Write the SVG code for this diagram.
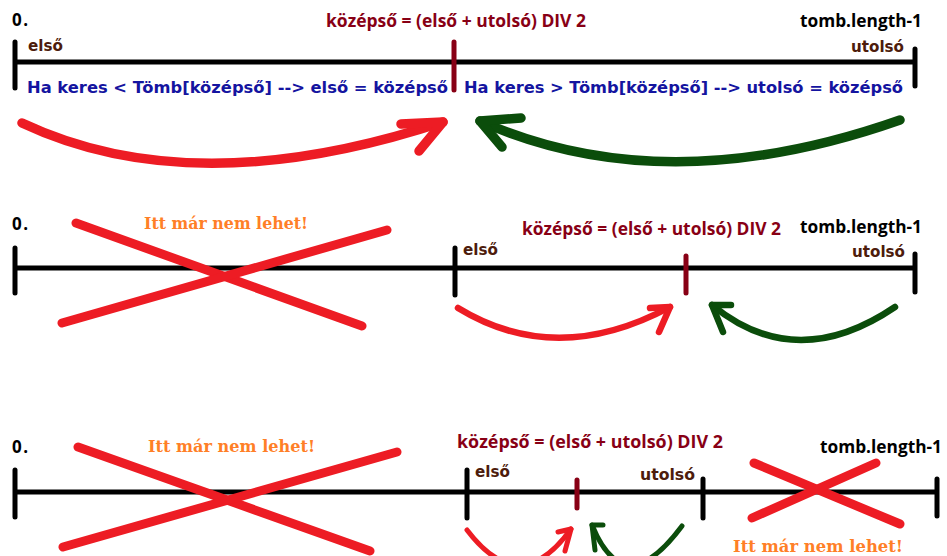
<svg xmlns="http://www.w3.org/2000/svg" width="947" height="556" viewBox="0 0 947 556">
<style>
.axis{stroke:#000;stroke-width:5;fill:none}
.tick{stroke:#000;stroke-width:5;stroke-linecap:round;fill:none}
.mid{stroke:#880015;stroke-width:5;stroke-linecap:round;fill:none}
.cross{stroke:#ed1c24;stroke-width:9;stroke-linecap:round;fill:none}
.red{stroke:#ed1c24;stroke-linecap:round;stroke-linejoin:round;fill:none}
.green{stroke:#0b4d0b;stroke-linecap:round;stroke-linejoin:round;fill:none}
.w1{stroke-width:9.5}
.w2{stroke-width:6.5}
.w3{stroke-width:5}
.calib{font-family:"Open Sans","Liberation Sans",sans-serif;font-weight:bold;font-size:17px}
.formula{fill:#880015}
.blk{fill:#000}
.ptr{font-family:"DejaVu Sans","Liberation Sans",sans-serif;font-weight:bold;font-size:15px;fill:#4d1c0c}
.blue{font-family:"DejaVu Sans","Liberation Sans",sans-serif;font-weight:bold;font-size:15px;fill:#1414a0}
.warn{font-family:"DejaVu Serif","Liberation Serif",serif;font-weight:bold;font-size:16px;fill:#ff7f27}
</style>

<!-- Row 1 -->
<g id="row1-axis">
<line class="axis" x1="15" y1="62" x2="915" y2="62"/>
<line class="tick" x1="15" y1="42" x2="15" y2="88"/>
<line class="tick" x1="915" y1="49" x2="915" y2="86"/>
<line class="mid" x1="454" y1="42" x2="454" y2="90"/>
</g>
<g id="row1-labels">
<text class="calib blk" x="12" y="26" textLength="16">0.</text>
<text class="calib formula" x="326" y="27" textLength="260" lengthAdjust="spacingAndGlyphs">középső = (első + utolsó) DIV 2</text>
<text class="calib blk" x="800" y="27" textLength="122" lengthAdjust="spacingAndGlyphs">tomb.length-1</text>
<text class="ptr" x="28" y="51" textLength="35" lengthAdjust="spacingAndGlyphs">első</text>
<text class="ptr" x="851" y="52" textLength="53" lengthAdjust="spacingAndGlyphs">utolsó</text>
<text class="blue" x="27" y="93" textLength="421" lengthAdjust="spacingAndGlyphs">Ha keres &lt; Tömb[középső] --&gt; első = középső</text>
<text class="blue" x="464" y="93" textLength="439" lengthAdjust="spacingAndGlyphs">Ha keres &gt; Tömb[középső] --&gt; utolsó = középső</text>
</g>

<!-- Row 2 -->
<g id="row2-axis">
<line class="axis" x1="15" y1="268" x2="915" y2="268"/>
<line class="tick" x1="15" y1="248" x2="15" y2="293"/>
<line class="tick" x1="455" y1="248" x2="455" y2="295"/>
<line class="mid" x1="686" y1="256" x2="686" y2="293"/>
<line class="tick" x1="915" y1="254" x2="915" y2="292"/>
</g>
<g id="row2-labels">
<text class="calib blk" x="12" y="230" textLength="16">0.</text>
<text class="warn" x="144" y="229" textLength="164" lengthAdjust="spacingAndGlyphs">Itt már nem lehet!</text>
<text class="calib formula" x="522" y="235" textLength="259" lengthAdjust="spacingAndGlyphs">középső = (első + utolsó) DIV 2</text>
<text class="calib blk" x="800" y="233" textLength="122" lengthAdjust="spacingAndGlyphs">tomb.length-1</text>
<text class="ptr" x="463" y="255" textLength="35" lengthAdjust="spacingAndGlyphs">első</text>
<text class="ptr" x="852" y="257" textLength="53" lengthAdjust="spacingAndGlyphs">utolsó</text>
</g>
<g id="row2-cross">
<line class="cross" x1="76" y1="223" x2="362" y2="326"/>
<line class="cross" x1="387" y1="230" x2="62" y2="323"/>
</g>

<!-- Row 3 -->
<g id="row3-axis">
<line class="axis" x1="15" y1="492" x2="937" y2="492"/>
<line class="tick" x1="15" y1="470" x2="15" y2="517"/>
<line class="tick" x1="467" y1="470" x2="467" y2="518"/>
<line class="mid" x1="577" y1="480" x2="577" y2="508"/>
<line class="tick" x1="703" y1="479" x2="703" y2="518"/>
<line class="tick" x1="937" y1="479" x2="937" y2="516"/>
</g>
<g id="row3-labels">
<text class="calib blk" x="12" y="453" textLength="16">0.</text>
<text class="warn" x="148" y="452" textLength="167" lengthAdjust="spacingAndGlyphs">Itt már nem lehet!</text>
<text class="calib formula" x="457" y="448" textLength="266" lengthAdjust="spacingAndGlyphs">középső = (első + utolsó) DIV 2</text>
<text class="calib blk" x="820" y="453" textLength="122" lengthAdjust="spacingAndGlyphs">tomb.length-1</text>
<text class="ptr" x="475" y="477" textLength="35" lengthAdjust="spacingAndGlyphs">első</text>
<text class="ptr" x="640" y="480" textLength="55" lengthAdjust="spacingAndGlyphs">utolsó</text>
<text class="warn" x="733" y="552" textLength="170" lengthAdjust="spacingAndGlyphs">Itt már nem lehet!</text>
</g>
<g id="row3-cross-left">
<line class="cross" x1="78" y1="447" x2="370" y2="551"/>
<line class="cross" x1="397" y1="452" x2="63" y2="547"/>
</g>
<g id="row3-cross-right">
<line class="cross" x1="754" y1="463" x2="900" y2="524"/>
<line class="cross" x1="876" y1="463" x2="752" y2="518"/>
</g>

<!-- Connectors -->
<g id="connectors">
<path class="red w1" d="M22,123 Q194,204 443,122"/>
<path class="red w1" d="M401,124 L443,122 L419,151"/>
<path class="green w1" d="M900,120 Q664,203 480,121"/>
<path class="green w1" d="M521,118 L480,121 L502,147"/>

<path class="red w2" d="M458,308 Q556,368 670,307"/>
<path class="red w2" d="M650,308 L670,307 L659,332"/>
<path class="green w2" d="M895,307 Q796,374 712,305"/>
<path class="green w2" d="M731,305 L712,305 L723,332"/>

<path class="red w3" d="M467,530 Q520,600 571,529"/>
<path class="red w3" d="M558,532 L571,529 L565,551"/>
<path class="green w3" d="M682,526 Q624,604 592,525"/>
<path class="green w3" d="M603,525 L592,525 L595,550"/>
</g>
</svg>
